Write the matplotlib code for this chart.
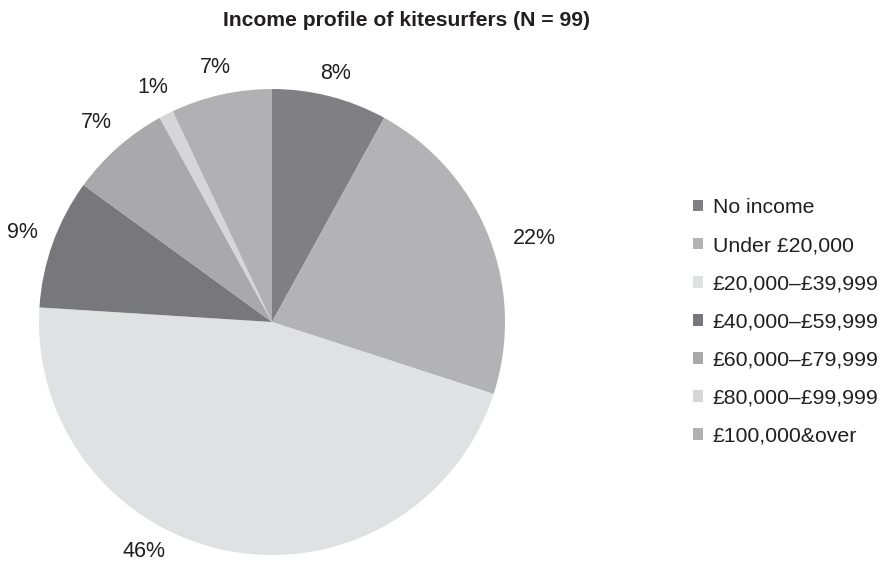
import numpy as np
import matplotlib.pyplot as plt

plt.rcParams['font.family'] = ['Liberation Sans', 'DejaVu Sans']

title = 'Income profile of kitesurfers (N = 99)'
categories = ['No income', 'Under £20,000', '£20,000–£39,999', '£40,000–£59,999',
              '£60,000–£79,999', '£80,000–£99,999', '£100,000&over']
shares = [8, 22, 46, 9, 7, 1, 7]
shades = ['#808084', '#b3b3b6', '#e0e1e3', '#78787c', '#a9a9ac', '#d6d6d8', '#b1b1b4']

# label placement around the rim: radius (in pie radii) and angle shift in degrees
label_radius = [1.10, 1.18, 1.13, 1.14, 1.14, 1.13, 1.12]
label_shift = [0, -4, -18.4, 0, 0, 0, 0]

ink = '#231f20'

fig = plt.figure(figsize=(8.88, 5.62), dpi=100)
ax = fig.add_axes([39 / 888, 7 / 562, 466 / 888, 466 / 562])

wedges, texts = ax.pie(shares, colors=shades, startangle=90, counterclock=False,
                       labels=[f'{v}%' for v in shares],
                       textprops=dict(fontsize=15.5, color=ink))
ax.set_xlim(-1, 1)
ax.set_ylim(-1, 1)

for w, t, r, d in zip(wedges, texts, label_radius, label_shift):
    mid = np.deg2rad((w.theta1 + w.theta2) / 2 + d)
    t.set_position((r * np.cos(mid), r * np.sin(mid)))
    t.set_ha('center')
    t.set_va('center')
    t.set_clip_on(False)

fig.text(406 / 888, 1 - 20 / 562, title, ha='center', va='center',
         fontsize=15.2, fontweight='bold', color=ink)

fig.legend(wedges, categories, loc='upper left', bbox_to_anchor=(693 / 888, 1 - 198 / 562),
           frameon=False, fontsize=15.3, handlelength=0.47, handleheight=0.47,
           handletextpad=0.45, labelspacing=0.9, borderpad=0, borderaxespad=0,
           labelcolor=ink)

fig.savefig('out.png', dpi=100)
